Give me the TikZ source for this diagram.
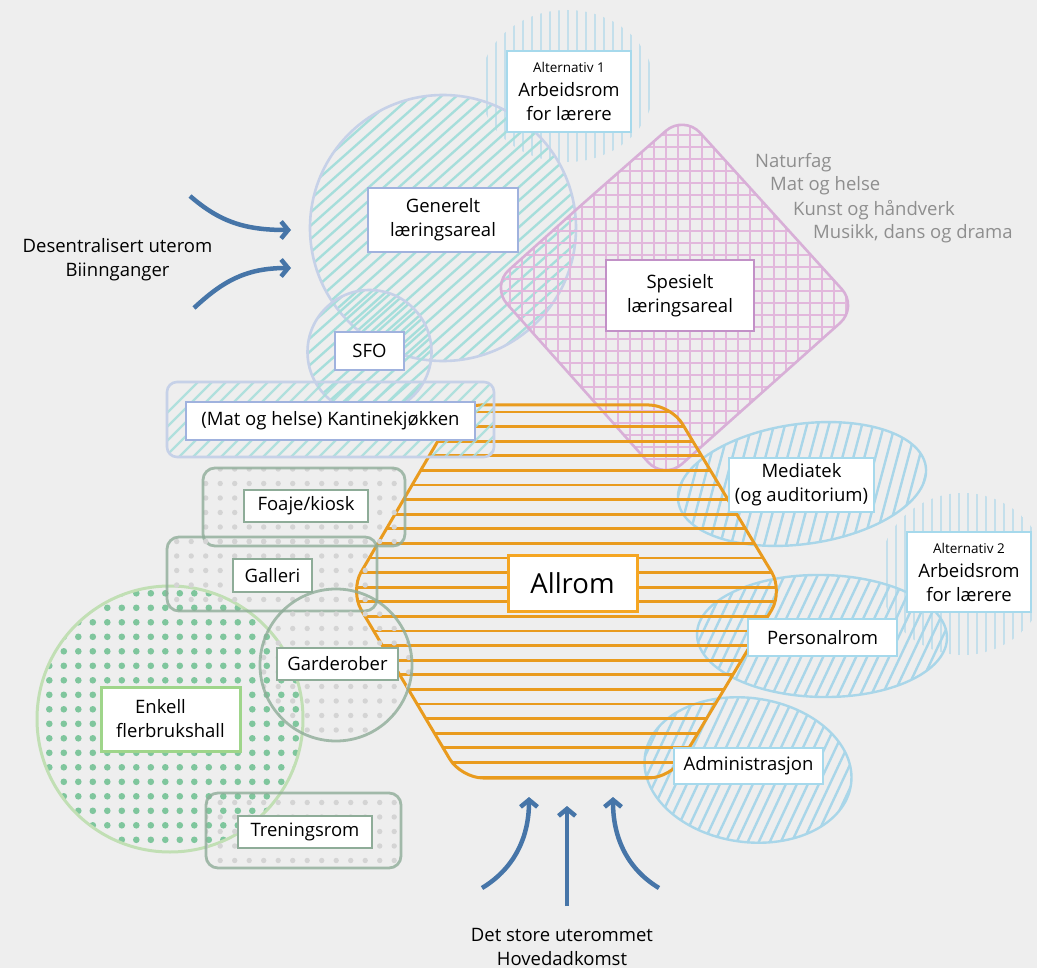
\documentclass[tikz,border=0pt]{standalone}
\usepackage{fontspec}
\setmainfont{Open Sans}
\usetikzlibrary{arrows.meta}

\definecolor{bgc}{HTML}{EEEEEE}
\definecolor{turq}{HTML}{A6DEDB}
\definecolor{lavline}{HTML}{C6D1E8}
\definecolor{pinkgrid}{HTML}{E2B8DC}
\definecolor{pinkline}{HTML}{D8AFD7}
\definecolor{hexorange}{HTML}{E99B1E}
\definecolor{allromedge}{HTML}{F5A623}
\definecolor{skyline}{HTML}{A9D6E9}
\definecolor{skyedge}{HTML}{A6D9EC}
\definecolor{genedge}{HTML}{A0B2DE}
\definecolor{spesedge}{HTML}{C291C7}
\definecolor{sageline}{HTML}{8EAC98}
\definecolor{greydot}{HTML}{D4D4D4}
\definecolor{greendot}{HTML}{7FC69D}
\definecolor{greenline}{HTML}{C1DFB4}
\definecolor{greenedge}{HTML}{9FD58A}
\definecolor{flowblue}{HTML}{4675A8}
\definecolor{listgrey}{HTML}{8E8E8E}

\newcommand\txtbody{\fontsize{18.5}{24}\selectfont}
\newcommand\txtsmall{\fontsize{13.5}{18}\selectfont}
\newcommand\txtbig{\fontsize{27.5}{32}\selectfont}

\begin{document}
\begin{tikzpicture}[x=1pt,y=-1pt,
  label box/.style={draw, fill=white, align=center, inner sep=0pt, text=black, font=\txtbody},
  turq hatch/.style={draw=turq, line width=2.4pt},
  sky hatch/.style={draw=skyline, line width=2.4pt},
  alt hatch/.style={draw=skyline, line width=1.8pt, opacity=0.6},
  sage outline/.style={draw=sageline, line width=2.8pt, draw opacity=0.8},
  flow/.style={draw=flowblue, line width=4.5pt, -{Straight Barb[length=7pt,width=17pt]}},
]
\useasboundingbox (0,0) rectangle (1037,968);
\fill[bgc] (0,0) rectangle (1037,968);
\clip (0,0) rectangle (1037,968);

% teacher workroom, option 1
\begin{scope}
  \clip (567,86) ellipse [x radius=87pt, y radius=76pt];
  \foreach \x in {478,487,...,658} \draw[alt hatch] (\x,5) -- (\x,165);
\end{scope}

% general learning area
\begin{scope}
  \clip (443,228) circle [radius=133pt];
  \foreach \k in {-16,...,16} \draw[turq hatch] ({443+15*\k-180},388) -- ++(360,-320);
\end{scope}
\draw[lavline, line width=2.6pt] (443,228) circle [radius=133pt];

% SFO
\begin{scope}
  \clip (369.5,352) circle [radius=62pt];
  \foreach \k in {-9,...,9} \draw[turq hatch] ({369.5+15*\k-90},432) -- ++(180,-160);
\end{scope}
\draw[lavline, line width=2.6pt] (369.5,352) circle [radius=62pt];

% special learning area
\begin{scope}
  \clip[rounded corners=24pt] (587,200) -- (684,115) -- (858,307) -- (664,480) -- (491,286) -- cycle;
  \foreach \x in {486,498,...,862} \draw[pinkgrid, line width=1.8pt] (\x,110) -- (\x,485);
  \foreach \y in {111,123,...,485} \draw[pinkgrid, line width=1.8pt] (485,\y) -- (865,\y);
\end{scope}
\draw[pinkline, line width=2.6pt, rounded corners=24pt] (587,200) -- (684,115) -- (858,307) -- (664,480) -- (491,286) -- cycle;

% media room
\begin{scope}
  \clip[rotate around={8:(802,484)}] (802,484) ellipse [x radius=125pt, y radius=60pt];
  \foreach \k in {-15,...,15} \draw[sky hatch] ({802+11*\k-20},560) -- ++(40,-150);
\end{scope}
\draw[skyline, line width=2.4pt, rotate around={8:(802,484)}] (802,484) ellipse [x radius=125pt, y radius=60pt];

% teacher workroom, option 2
\begin{scope}
  \clip (963,574) ellipse [x radius=84pt, y radius=81pt];
  \foreach \x in {878,887,...,1050} \draw[alt hatch] (\x,490) -- (\x,660);
\end{scope}

% staff room
\begin{scope}
  \clip[rotate around={-1:(822,636)}] (822,636) ellipse [x radius=125pt, y radius=61pt];
  \foreach \k in {-16,...,16} \draw[sky hatch] ({822+11*\k-33},706) -- ++(66,-140);
\end{scope}
\draw[skyline, line width=2.4pt, rotate around={-1:(822,636)}] (822,636) ellipse [x radius=125pt, y radius=61pt];

% administration
\begin{scope}
  \clip[rotate around={-8:(748,770)}] (748,770) ellipse [x radius=104pt, y radius=72pt];
  \foreach \k in {-15,...,15} \draw[sky hatch] ({748+11*\k-37},850) -- ++(75,-160);
\end{scope}
\draw[skyline, line width=2.4pt, rotate around={-8:(748,770)}] (748,770) ellipse [x radius=104pt, y radius=72pt];

% common hall
\begin{scope}
  \clip[rounded corners=22pt] (565,405) -- (671,405) -- (783,591) -- (671,778) -- (461,778) -- (350,591) -- (459,405) -- cycle;
  \foreach \i in {0,...,25} \draw[hexorange, line width=2.9pt] (345,{412+14.6*\i}) -- (790,{412+14.6*\i});
\end{scope}
\draw[hexorange, line width=3pt, rounded corners=22pt] (565,405) -- (671,405) -- (783,591) -- (671,778) -- (461,778) -- (350,591) -- (459,405) -- cycle;

% canteen kitchen
\begin{scope}
  \clip[rounded corners=10pt] (167,382) rectangle (494,457);
  \foreach \k in {0,...,28} \draw[turq hatch, opacity=0.85] ({120+14*\k},460) -- ++(85,-85);
\end{scope}
\draw[lavline, line width=2.6pt, rounded corners=10pt] (167,382) rectangle (494,457);

% multi-purpose hall
\begin{scope}
  \clip (170,719) circle [radius=133pt];
  \foreach \i in {-1,...,18} \foreach \j in {-1,...,18}
    \fill[greendot] ({49.3+14.5*\i},{593.3+14.5*\j}) circle [radius=3.3pt];
\end{scope}
\draw[greenline, line width=3pt] (170,719) circle [radius=133pt];

% foyer
\begin{scope}
  \clip[rounded corners=12pt] (203,468) rectangle (405,546);
  \foreach \i in {0,...,17} \foreach \j in {0,...,7}
    \fill[greydot] ({162.2+14.5*\i},{454.5+14.5*\j}) circle [radius=2.7pt];
\end{scope}
\draw[sage outline, rounded corners=12pt] (203,468) rectangle (405,546);

% gallery
\begin{scope}
  \clip[rounded corners=12pt] (167,537) rectangle (377,611);
  \foreach \i in {0,...,17} \foreach \j in {5,...,11}
    \fill[greydot] ({162.2+14.5*\i},{454.5+14.5*\j}) circle [radius=2.7pt];
\end{scope}
\draw[sage outline, rounded corners=12pt] (167,537) rectangle (377,611);

% cloakrooms
\begin{scope}
  \clip (336,665) circle [radius=76pt];
  \foreach \i in {6,...,17} \foreach \j in {8,...,20}
    \fill[greydot] ({162.2+14.5*\i},{454.5+14.5*\j}) circle [radius=2.7pt];
\end{scope}
\draw[sage outline] (336,665) circle [radius=76pt];

% gym
\begin{scope}
  \clip[rounded corners=12pt] (206,793) rectangle (401,868);
  \foreach \i in {2,...,17} \foreach \j in {22,...,29}
    \fill[greydot] ({162.2+14.5*\i},{454.5+14.5*\j}) circle [radius=2.7pt];
\end{scope}
\draw[sage outline, rounded corners=12pt] (206,793) rectangle (401,868);

% labels
\node[label box, draw=skyedge, line width=2pt, minimum width=124pt, minimum height=81pt] (alt1) at (569,91.5)
  {{\txtsmall Alternativ 1}\\Arbeidsrom\\for lærere};
\node[label box, draw=genedge, line width=2.5pt, minimum width=150pt, minimum height=64pt] (gen) at (443,220)
  {Generelt\\læringsareal};
\node[label box, draw=spesedge, line width=2.5pt, minimum width=148pt, minimum height=71pt] (spes) at (680,295.5)
  {Spesielt\\læringsareal};
\node[label box, draw=genedge, line width=1.5pt, minimum width=69pt, minimum height=38pt] (sfo) at (369.5,351) {SFO};
\node[label box, draw=genedge, line width=1.5pt, minimum width=289pt, minimum height=38pt] (kant) at (330.5,421)
  {(Mat og helse) Kantinekjøkken};
\node[label box, draw=allromedge, line width=3pt, minimum width=129pt, minimum height=56pt, font=\txtbig] (allrom) at (572.5,583) {Allrom};
\node[label box, draw=skyedge, line width=2pt, minimum width=145pt, minimum height=54pt] (med) at (801.5,485)
  {Mediatek\\(og auditorium)};
\node[label box, draw=skyedge, line width=2pt, minimum width=124pt, minimum height=80pt] (alt2) at (969,572)
  {{\txtsmall Alternativ 2}\\Arbeidsrom\\for lærere};
\node[label box, draw=skyedge, line width=2pt, minimum width=149pt, minimum height=37pt] (pers) at (822.5,637.5) {Personalrom};
\node[label box, draw=skyedge, line width=2pt, minimum width=149pt, minimum height=36pt] (adm) at (748.5,766) {Administrasjon};
\node[label box, draw=sageline, line width=1.5pt, minimum width=124pt, minimum height=32pt] (foaje) at (306,506) {Foaje/kiosk};
\node[label box, draw=sageline, line width=1.5pt, minimum width=79pt, minimum height=33pt] (gall) at (272.5,575.5) {Galleri};
\node[label box, draw=sageline, line width=1.5pt, minimum width=121pt, minimum height=32pt] (gard) at (337.5,664) {Garderober};
\node[label box, draw=greenedge, line width=3pt, minimum width=139pt, minimum height=64pt] (enk) at (170.5,719)
  {Enkell\hspace{20pt}\mbox{}\\flerbrukshall};
\node[label box, draw=sageline, line width=1.5pt, minimum width=134pt, minimum height=32pt] (tren) at (305,832) {Treningsrom};

% subject list
\node[anchor=west, text=listgrey, font=\txtbody, inner sep=0pt] (nat) at (755,163) {Naturfag};
\node[anchor=west, text=listgrey, font=\txtbody, inner sep=0pt] (mat) at (770,186) {Mat og helse};
\node[anchor=west, text=listgrey, font=\txtbody, inner sep=0pt] (kunst) at (793,210) {Kunst og håndverk};
\node[anchor=west, text=listgrey, font=\txtbody, inner sep=0pt] (mus) at (813,234) {Musikk, dans og drama};

% entrances
\node[align=center, font=\txtbody, inner sep=0pt] (side) at (117.5,260) {Desentralisert uterom\\Biinnganger};
\node[align=center, font=\txtbody, inner sep=0pt] (yard) at (562,947) {Det store uterommet\\Hovedadkomst};

\coordinate (s1) at (190,196); \coordinate (e1) at (291,230);
\coordinate (s2) at (194,308); \coordinate (e2) at (291,268);
\draw[flow] (s1) .. controls (220,222) and (245,230) .. (e1);
\draw[flow] (s2) .. controls (222,282) and (245,268) .. (e2);

\coordinate (b1) at (482,888); \coordinate (t1) at (529,797);
\coordinate (b2) at (567,906); \coordinate (t2) at (567,806);
\coordinate (b3) at (659,888); \coordinate (t3) at (613,797);
\draw[flow] (b1) .. controls (512,870) and (529,840) .. (t1);
\draw[flow] (b2) -- (t2);
\draw[flow] (b3) .. controls (629,870) and (613,840) .. (t3);
\end{tikzpicture}
\end{document}
